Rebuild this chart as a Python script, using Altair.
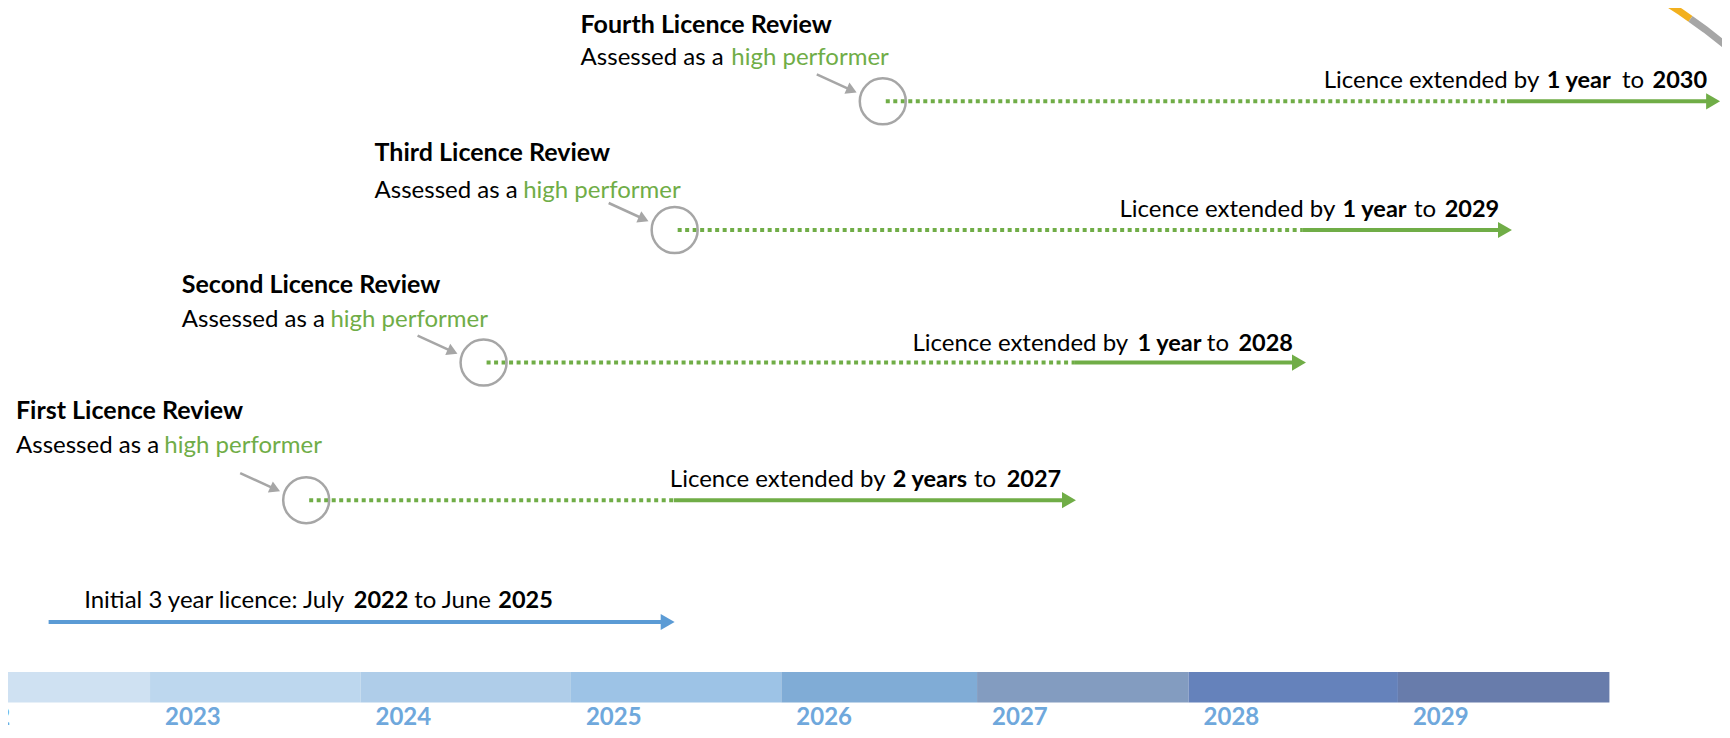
import altair as alt
import pandas as pd

# ---------------- data ----------------
# timeline band (one block per licence year)
years = ["2022", "2023", "2024", "2025", "2026", "2027", "2028", "2029"]
year_start = [2022.0, 2023.0, 2024.0, 2025.0, 2026.0, 2026.93, 2027.935, 2028.93]
year_end = [2023.0, 2024.0, 2025.0, 2026.0, 2026.93, 2027.935, 2028.93, 2029.935]
year_colors = ["#cfe1f2", "#bdd7ee", "#afcde9", "#9dc3e6", "#80acd6", "#839cc0", "#6582bb", "#687cab"]

# initial licence
initial_from = 2022.518
initial_to = 2025.493
initial_row = 627
initial_parts = ["Initial 3 year licence: July", "2022", "to June", "2025"]
initial_parts_x = [2022.687, 2023.968, 2024.255, 2024.655]
initial_parts_bold = [False, True, False, True]
initial_text_row = 613

# licence reviews
review_titles = ["First Licence Review", "Second Licence Review",
                 "Third Licence Review", "Fourth Licence Review"]
review_at = [2023.742, 2024.585, 2025.493, 2026.482]
review_row = [503, 363, 228, 97]
ext_from = [2025.489, 2027.395, 2028.478, 2029.448]
ext_to = [2027.400, 2028.493, 2029.472, 2030.461]
ext_amount = ["2 years", "1 year", "1 year", "1 year"]
ext_until = ["2027", "2028", "2029", "2030"]

title_x = [2022.363, 2023.151, 2024.067, 2025.046]
title_row = [420, 292, 158, 27]
assess_row = [455, 327, 195, 60]
perf_x = [2023.068, 2023.857, 2024.773, 2025.762]
label_row = [490, 351, 215, 83]
label_x = [2025.470, 2026.623, 2027.607, 2028.577]
amount_x = [2026.529, 2027.692, 2028.667, 2029.637]
to_x = [2026.915, 2028.022, 2029.006, 2029.995]
until_x = [2027.071, 2028.172, 2029.152, 2030.140]

# decorative ring fragment (top right)
ring_x = [2030.216, 2030.273, 2030.320, 2030.320, 2030.391, 2030.480]
ring_row = [-2, 6, 13, 13, 24, 39]
ring_part = ["gold", "gold", "gold", "grey", "grey", "grey"]

# ---------------- colours / fonts ----------------
GREEN = "#70ad47"
BLUE = "#5b9bd5"
GREY = "#a6a6a6"
LABEL_BLUE = "#6fa8dc"
FONT = "Lato"
FS = 24

xs = alt.Scale(domain=[2022.325, 2030.470], nice=False, zero=False)
ys = alt.Scale(domain=[2, 737], reverse=True, nice=False, zero=False)


def X(f):
    return alt.X(f, type="quantitative", scale=xs, axis=None)


def Y(f):
    return alt.Y(f, type="quantitative", scale=ys, axis=None)


# ---------------- frames ----------------
band = pd.DataFrame({"year": years, "start": year_start, "end": year_end, "color": year_colors})
rev = pd.DataFrame({"title": review_titles, "at": review_at, "row": review_row,
                    "efrom": ext_from, "eto": ext_to})
init = pd.DataFrame({"from": [initial_from], "to": [initial_to], "row": [initial_row]})
ring = pd.DataFrame({"x": ring_x, "row": ring_row, "part": ring_part})

rows = []
for i in range(4):
    rows.append((title_x[i], title_row[i], review_titles[i], "title", "#000000"))
    rows.append((title_x[i], assess_row[i], "Assessed as a", "regular", "#000000"))
    rows.append((perf_x[i], assess_row[i], "high performer", "regular", GREEN))
    rows.append((label_x[i], label_row[i], "Licence extended by", "regular", "#000000"))
    rows.append((amount_x[i], label_row[i], ext_amount[i], "bold", "#000000"))
    rows.append((to_x[i], label_row[i], "to", "regular", "#000000"))
    rows.append((until_x[i], label_row[i], ext_until[i], "bold", "#000000"))
for t, x, b in zip(initial_parts, initial_parts_x, initial_parts_bold):
    rows.append((x, initial_text_row, t, "bold" if b else "regular", "#000000"))
texts = pd.DataFrame(rows, columns=["x", "row", "text", "style", "color"])

# ---------------- layers ----------------
band_rect = alt.Chart(band).mark_rect().encode(
    x=X("start"), x2="end", y=alt.Y(datum=678, scale=ys, axis=None), y2=alt.datum(709),
    color=alt.Color("color:N", scale=None))

band_text = alt.Chart(band).mark_text(
    align="left", baseline="alphabetic", dx=15, font=FONT, fontSize=24,
    fontWeight="bold", color=LABEL_BLUE).encode(
    x=X("start"), y=alt.Y(datum=732, scale=ys, axis=None), text="year:N")

init_line = alt.Chart(init).mark_rule(color=BLUE, strokeWidth=4, x2Offset=-8).encode(
    x=X("from"), x2="to", y=Y("row"))
init_head = alt.Chart(init).mark_point(
    shape="triangle-right", filled=True, color=BLUE, opacity=1, size=260, xOffset=-7).encode(
    x=X("to"), y=Y("row"))

dotted = alt.Chart(rev).mark_rule(
    color=GREEN, strokeWidth=4, strokeDash=[4, 3.5], xOffset=3).encode(
    x=X("at"), x2="efrom", y=Y("row"))
solid = alt.Chart(rev).mark_rule(color=GREEN, strokeWidth=4, x2Offset=-8).encode(
    x=X("efrom"), x2="eto", y=Y("row"))
heads = alt.Chart(rev).mark_point(
    shape="triangle-right", filled=True, color=GREEN, opacity=1, size=260, xOffset=-7).encode(
    x=X("eto"), y=Y("row"))

circles = alt.Chart(rev).mark_point(
    shape="circle", filled=False, color=GREY, opacity=1, strokeWidth=2.5, size=2116).encode(
    x=X("at"), y=Y("row"))

pointer = alt.Chart(rev).mark_rule(
    color=GREY, strokeWidth=2.5, xOffset=-66, yOffset=-27, x2Offset=-31, y2Offset=-11).encode(
    x=X("at"), x2="at", y=Y("row"), y2="row")
pointer_head = alt.Chart(rev).mark_point(
    shape="triangle-right", filled=True, color=GREY, opacity=1, size=150, angle=24,
    xOffset=-31, yOffset=-11).encode(
    x=X("at"), y=Y("row"))

ring_line = alt.Chart(ring).mark_line(strokeWidth=7, strokeCap="butt").encode(
    x=X("x"), y=Y("row"),
    color=alt.Color("part:N", scale=alt.Scale(domain=["gold", "grey"], range=["#f2b01e", "#a6a6a6"]),
                    legend=None),
    detail="part:N")

txt_regular = alt.Chart(texts).transform_filter("datum.style == 'regular'").mark_text(
    align="left", baseline="alphabetic", font=FONT, fontSize=FS).encode(
    x=X("x"), y=Y("row"), text="text:N", color=alt.Color("color:N", scale=None))
txt_bold = alt.Chart(texts).transform_filter("datum.style == 'bold'").mark_text(
    align="left", baseline="alphabetic", font=FONT, fontSize=23.5, fontWeight="bold").encode(
    x=X("x"), y=Y("row"), text="text:N", color=alt.Color("color:N", scale=None))
txt_title = alt.Chart(texts).transform_filter("datum.style == 'title'").mark_text(
    align="left", baseline="alphabetic", font=FONT, fontSize=25, fontWeight="bold").encode(
    x=X("x"), y=Y("row"), text="text:N", color=alt.Color("color:N", scale=None))

chart = alt.layer(
    band_rect, band_text, init_line, init_head, dotted, solid, heads,
    circles, pointer, pointer_head, ring_line, txt_regular, txt_bold, txt_title
).resolve_scale(color="independent").properties(
    width=1714, height=722, padding=0,
    autosize=alt.AutoSizeParams(type="none")
).configure_view(stroke=None)

chart.save("out.html", embed_options={"renderer": "svg", "actions": False})
